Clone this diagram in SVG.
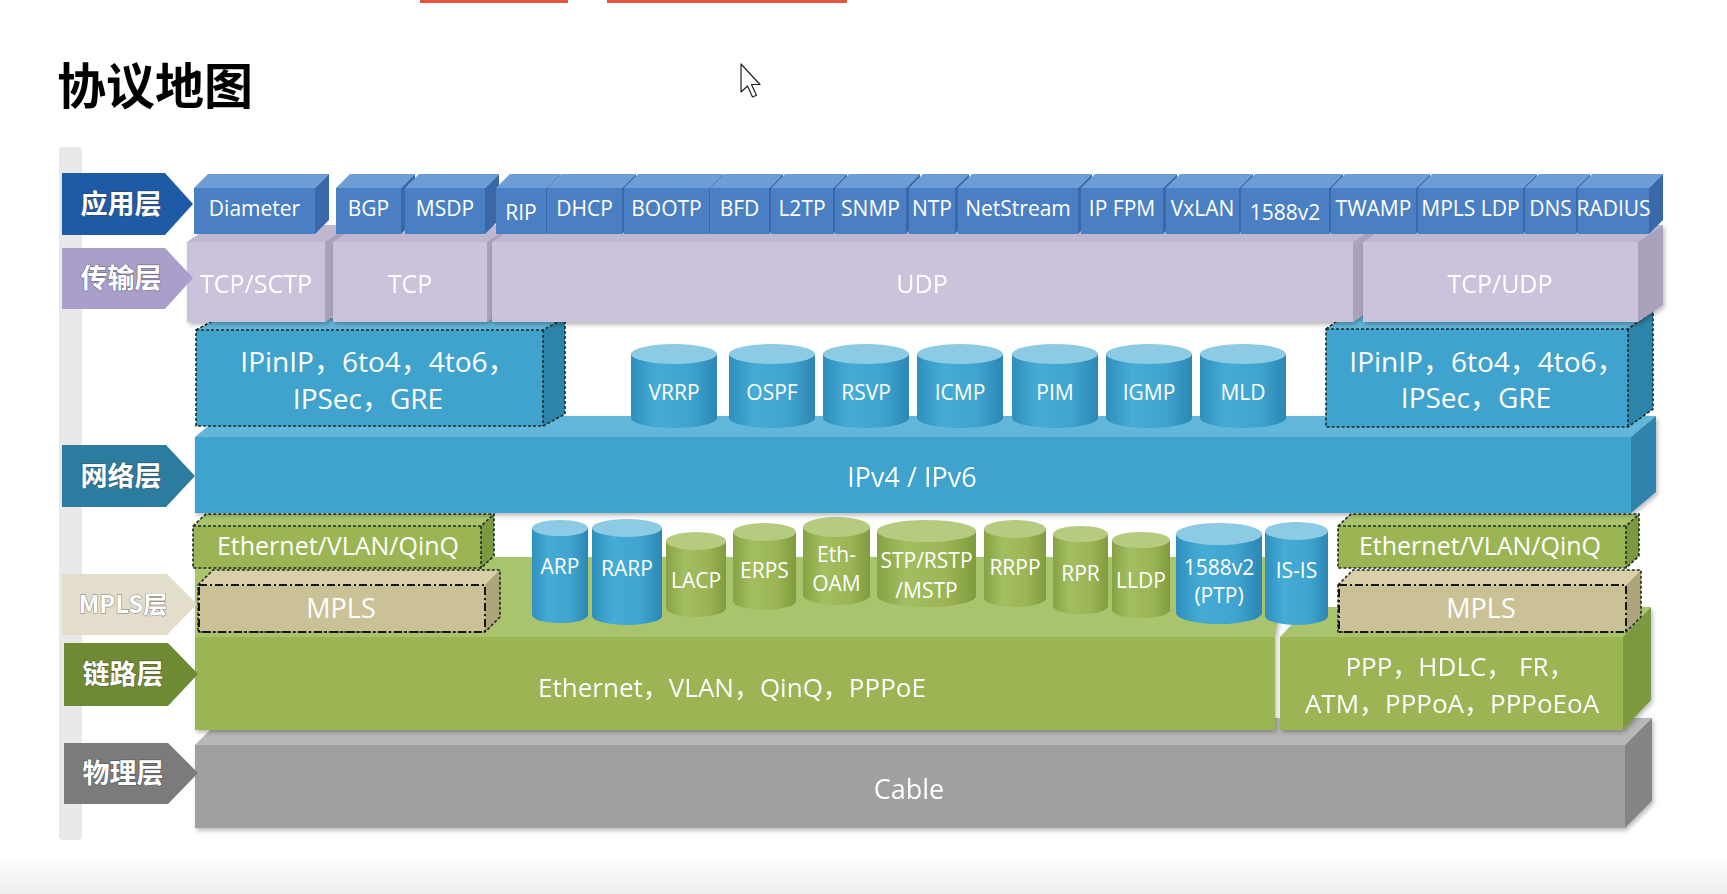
<svg xmlns="http://www.w3.org/2000/svg" width="1727" height="894" viewBox="0 0 1727 894">
<defs>
<style>
.t{font-family:"Open Sans","Noto Sans CJK SC",sans-serif;fill:#fff;text-anchor:middle}
.s21{font-size:21px}.s25{font-size:25px}.s26{font-size:26px}.s27{font-size:27px}.s28{font-size:28px}
.lbl{font-family:"Noto Sans CJK SC","Noto Sans CJK JP",sans-serif;font-weight:bold;font-size:27px;fill:#fff;text-anchor:middle;stroke:#3a3a3a;stroke-opacity:.45;stroke-width:1.4px;paint-order:stroke}
.app-f{fill:#4a80c3}.app-t{fill:#6d9dd5}.app-s{fill:#3a69a9}
.tr-f{fill:#cbc3dc}.tr-t{fill:#bfb6d0}.tr-s{fill:#aaa1bd}
.nw-f{fill:#3fa3cd}.nw-t{fill:#62b6da}.nw-s{fill:#2d84aa}
.ln-f{fill:#9bb554}.ln-t{fill:#a9c46c}.ln-s{fill:#7d993f}
.mp-f{fill:#cbc196}.mp-t{fill:#d9d0aa}.mp-s{fill:#ada47a}
.cb-f{fill:#a0a0a0}.cb-t{fill:#b8b8b8}.cb-s{fill:#858585}
.dash{fill:none;stroke:#1e2a24;stroke-width:1.6;stroke-dasharray:3 2}
.dd{fill:none;stroke:#151515;stroke-width:2;stroke-dasharray:8 3 2 3}
.cyb{fill:url(#gb)}.cyg{fill:url(#gg)}
.ctb{fill:#8dcbe5}.ctg{fill:#b5cc80}
</style>
<linearGradient id="gb" x1="0" y1="0" x2="1" y2="0">
<stop offset="0" stop-color="#2f8fbd"/><stop offset="0.3" stop-color="#45acd6"/><stop offset="0.7" stop-color="#3fa4cf"/><stop offset="1" stop-color="#2c86b3"/>
</linearGradient>
<linearGradient id="gg" x1="0" y1="0" x2="1" y2="0">
<stop offset="0" stop-color="#86a343"/><stop offset="0.3" stop-color="#a3be60"/><stop offset="0.7" stop-color="#9bb555"/><stop offset="1" stop-color="#7f9b3d"/>
</linearGradient>
<linearGradient id="gbot" x1="0" y1="0" x2="0" y2="1">
<stop offset="0" stop-color="#ffffff"/><stop offset="1" stop-color="#eeeeee"/>
</linearGradient>
<filter id="sh" x="-5%" y="-10%" width="115%" height="135%">
<feDropShadow dx="1.5" dy="2.5" stdDeviation="2" flood-color="#000" flood-opacity="0.28"/>
</filter>
</defs>

<rect width="1727" height="894" fill="#ffffff"/>
<rect x="0" y="855" width="1727" height="39" fill="url(#gbot)"/>
<rect x="420" y="0" width="148" height="3" fill="#e2553f"/>
<rect x="607" y="0" width="240" height="3" fill="#e2553f"/>
<text x="57" y="104" font-family="Noto Sans CJK SC, sans-serif" font-weight="bold" font-size="49" fill="#000">协议地图</text>
<path d="M741,64 L741,92 L747.5,86 L752.5,97 L756.5,95.2 L751.5,84.5 L760,84.5 Z" fill="#fff" stroke="#222" stroke-width="1.2" stroke-linejoin="round"/>
<rect x="59" y="147" width="23" height="693" rx="4" fill="#e9e9e9"/>

<g id="connectors"/>

<!-- Physical layer -->
<g id="cable" filter="url(#sh)">
<polygon class="cb-t" points="195,745 222,718 1652,718 1625,745"/>
<polygon class="cb-s" points="1625,745 1652,718 1652,801 1625,828"/>
<rect class="cb-f" x="195" y="745" width="1430" height="83"/>
<text class="t s27" x="909" y="799">Cable</text>
</g>

<!-- Link layer -->
<g id="link-ethernet" filter="url(#sh)">
<polygon class="ln-t" points="195,637 195,557 1290,557 1275,637"/>
<rect class="ln-f" x="195" y="637" width="1080" height="93"/>
<text class="t s26" x="732" y="697">Ethernet，VLAN，QinQ，PPPoE</text>
</g>
<g id="link-wan" filter="url(#sh)">
<polygon class="ln-t" points="1280,637 1308,607 1651,607 1623,637"/>
<polygon class="ln-s" points="1623,637 1651,607 1651,700 1623,730"/>
<rect class="ln-f" x="1280" y="637" width="343" height="93"/>
<text class="t s26" x="1460" y="676">PPP，HDLC， FR，</text>
<text class="t s26" x="1452" y="713">ATM，PPPoA，PPPoEoA</text>
</g>

<!-- MPLS boxes -->
<g id="mpls-left">
<polygon class="mp-t" points="198,585 213,570 500,570 485,585"/>
<polygon class="mp-s" points="485,585 500,570 500,617 485,632"/>
<rect class="mp-f" x="198" y="585" width="287" height="47"/>
<polygon class="dash" points="198,585 213,570 500,570 500,617 485,632 198,632"/>
<rect class="dd" x="199" y="585" width="286" height="47"/>
<text class="t s27" x="341" y="618">MPLS</text>
</g>
<g id="mpls-right">
<polygon class="mp-t" points="1338,585 1353,570 1641,570 1626,585"/>
<polygon class="mp-s" points="1626,585 1641,570 1641,617 1626,632"/>
<rect class="mp-f" x="1338" y="585" width="288" height="47"/>
<polygon class="dash" points="1338,585 1353,570 1641,570 1641,617 1626,632 1338,632"/>
<rect class="dd" x="1339" y="585" width="287" height="47"/>
<text class="t s27" x="1481" y="618">MPLS</text>
</g>

<!-- Ethernet/VLAN/QinQ boxes -->
<g id="eth-left">
<polygon class="ln-t" points="193,526 206,514 494,514 481,526"/>
<polygon class="ln-s" points="481,526 494,514 494,556 481,568"/>
<rect class="ln-f" x="193" y="526" width="288" height="42"/>
<polygon class="dash" points="193,526 206,514 494,514 494,556 481,568 193,568"/>
<polyline class="dash" points="193,526 481,526 494,514"/>
<line class="dash" x1="481" y1="526" x2="481" y2="568"/>
<text class="t s25" x="338" y="555">Ethernet/VLAN/QinQ</text>
</g>
<g id="eth-right">
<polygon class="ln-t" points="1338,526 1351,514 1639,514 1626,526"/>
<polygon class="ln-s" points="1626,526 1639,514 1639,556 1626,568"/>
<rect class="ln-f" x="1338" y="526" width="288" height="42"/>
<polygon class="dash" points="1338,526 1351,514 1639,514 1639,556 1626,568 1338,568"/>
<polyline class="dash" points="1338,526 1626,526 1639,514"/>
<line class="dash" x1="1626" y1="526" x2="1626" y2="568"/>
<text class="t s25" x="1480" y="555">Ethernet/VLAN/QinQ</text>
</g>

<!-- Link layer cylinders -->
<g id="arp"><path class="cyb" d="M532,528 V615 A28,8 0 0 0 588,615 V528 Z"/><ellipse class="ctb" cx="560" cy="528" rx="28" ry="8"/><text class="t s21" x="560" y="574">ARP</text></g>
<g id="rarp"><path class="cyb" d="M592,528 V616 A35,9 0 0 0 662,616 V528 Z"/><ellipse class="ctb" cx="627" cy="528" rx="35" ry="9"/><text class="t s21" x="627" y="576">RARP</text></g>
<g id="lacp"><path class="cyg" d="M666,541 V608 A30,9 0 0 0 726,608 V541 Z"/><ellipse class="ctg" cx="696" cy="541" rx="30" ry="9"/><text class="t s21" x="696" y="588">LACP</text></g>
<g id="erps"><path class="cyg" d="M733,532 V601 A31.5,9 0 0 0 796,601 V532 Z"/><ellipse class="ctg" cx="764.5" cy="532" rx="31.5" ry="9"/><text class="t s21" x="764.5" y="578">ERPS</text></g>
<g id="eth-oam"><path class="cyg" d="M803,527 V595 A33.5,10 0 0 0 870,595 V527 Z"/><ellipse class="ctg" cx="836.5" cy="527" rx="33.5" ry="10"/><text class="t s21" x="836.5" y="562">Eth-</text><text class="t s21" x="836.5" y="591">OAM</text></g>
<g id="stp"><path class="cyg" d="M877,531 V596 A49.5,11 0 0 0 976,596 V531 Z"/><ellipse class="ctg" cx="926.5" cy="531" rx="49.5" ry="11"/><text class="t s21" x="926.5" y="568">STP/RSTP</text><text class="t s21" x="926.5" y="598">/MSTP</text></g>
<g id="rrpp"><path class="cyg" d="M984,529 V598 A31,9 0 0 0 1046,598 V529 Z"/><ellipse class="ctg" cx="1015" cy="529" rx="31" ry="9"/><text class="t s21" x="1015" y="575">RRPP</text></g>
<g id="rpr"><path class="cyg" d="M1053,534 V606 A27.5,8 0 0 0 1108,606 V534 Z"/><ellipse class="ctg" cx="1080.5" cy="534" rx="27.5" ry="8"/><text class="t s21" x="1080.5" y="581">RPR</text></g>
<g id="lldp"><path class="cyg" d="M1112,540 V610 A29,8 0 0 0 1170,610 V540 Z"/><ellipse class="ctg" cx="1141" cy="540" rx="29" ry="8"/><text class="t s21" x="1141" y="588">LLDP</text></g>
<g id="ptp"><path class="cyb" d="M1176,534 V613 A43,11 0 0 0 1262,613 V534 Z"/><ellipse class="ctb" cx="1219" cy="534" rx="43" ry="11"/><text class="t s21" x="1219" y="575">1588v2</text><text class="t s21" x="1219" y="603">(PTP)</text></g>
<g id="isis"><path class="cyb" d="M1265,531 V616 A31.5,9 0 0 0 1328,616 V531 Z"/><ellipse class="ctb" cx="1296.5" cy="531" rx="31.5" ry="9"/><text class="t s21" x="1296.5" y="578">IS-IS</text></g>

<!-- Network layer -->
<g id="ipv4-ipv6" filter="url(#sh)">
<polygon class="nw-t" points="195,437 220,416 1656,416 1631,437"/>
<polygon class="nw-s" points="1631,437 1656,416 1656,492 1631,513"/>
<rect class="nw-f" x="195" y="437" width="1436" height="76"/>
<text class="t s27" x="912" y="487">IPv4 / IPv6</text>
</g>

<g id="vrrp"><path class="cyb" d="M631,354 V418 A43,10 0 0 0 717,418 V354 Z"/><ellipse class="ctb" cx="674" cy="354" rx="43" ry="10"/><text class="t s21" x="674" y="400">VRRP</text></g>
<g id="ospf"><path class="cyb" d="M729,354 V418 A43,10 0 0 0 815,418 V354 Z"/><ellipse class="ctb" cx="772" cy="354" rx="43" ry="10"/><text class="t s21" x="772" y="400">OSPF</text></g>
<g id="rsvp"><path class="cyb" d="M823,354 V418 A43,10 0 0 0 909,418 V354 Z"/><ellipse class="ctb" cx="866" cy="354" rx="43" ry="10"/><text class="t s21" x="866" y="400">RSVP</text></g>
<g id="icmp"><path class="cyb" d="M917,354 V418 A43,10 0 0 0 1003,418 V354 Z"/><ellipse class="ctb" cx="960" cy="354" rx="43" ry="10"/><text class="t s21" x="960" y="400">ICMP</text></g>
<g id="pim"><path class="cyb" d="M1012,354 V418 A43,10 0 0 0 1098,418 V354 Z"/><ellipse class="ctb" cx="1055" cy="354" rx="43" ry="10"/><text class="t s21" x="1055" y="400">PIM</text></g>
<g id="igmp"><path class="cyb" d="M1106,354 V418 A43,10 0 0 0 1192,418 V354 Z"/><ellipse class="ctb" cx="1149" cy="354" rx="43" ry="10"/><text class="t s21" x="1149" y="400">IGMP</text></g>
<g id="mld"><path class="cyb" d="M1200,354 V418 A43,10 0 0 0 1286,418 V354 Z"/><ellipse class="ctb" cx="1243" cy="354" rx="43" ry="10"/><text class="t s21" x="1243" y="400">MLD</text></g>

<g id="tunnel-left">
<polygon class="nw-t" points="196,330 218,318 565,318 543,330"/>
<polygon class="nw-s" points="543,330 565,318 565,414 543,426"/>
<rect class="nw-f" x="196" y="330" width="347" height="96"/>
<polygon class="dash" points="196,330 218,318 565,318 565,414 543,426 196,426"/>
<polyline class="dash" points="196,330 543,330 565,318"/>
<line class="dash" x1="543" y1="330" x2="543" y2="426"/>
<text class="t s28" x="378" y="372">IPinIP，6to4，4to6，</text>
<text class="t s28" x="368" y="409">IPSec，GRE</text>
</g>
<g id="tunnel-right">
<polygon class="nw-t" points="1326,329 1351,311 1653,311 1628,329"/>
<polygon class="nw-s" points="1628,329 1653,311 1653,409 1628,427"/>
<rect class="nw-f" x="1326" y="329" width="302" height="98"/>
<polygon class="dash" points="1326,329 1351,311 1653,311 1653,409 1628,427 1326,427"/>
<polyline class="dash" points="1326,329 1628,329 1653,311"/>
<line class="dash" x1="1628" y1="329" x2="1628" y2="427"/>
<text class="t s28" x="1487" y="372">IPinIP，6to4，4to6，</text>
<text class="t s28" x="1476" y="408">IPSec，GRE</text>
</g>

<!-- Transport layer -->
<g id="tcp-sctp" filter="url(#sh)">
<polygon class="tr-t" points="187,242 212,225 350,225 325,242"/>
<polygon class="tr-s" points="325,242 350,225 350,305 325,322"/>
<rect class="tr-f" x="187" y="242" width="138" height="80"/>
<text class="t s25" x="256" y="293">TCP/SCTP</text>
</g>
<g id="tcp" filter="url(#sh)">
<polygon class="tr-t" points="333,242 358,225 512,225 487,242"/>
<polygon class="tr-s" points="487,242 512,225 512,305 487,322"/>
<rect class="tr-f" x="333" y="242" width="154" height="80"/>
<text class="t s25" x="410" y="293">TCP</text>
</g>
<g id="udp" filter="url(#sh)">
<polygon class="tr-t" points="492,242 517,225 1378,225 1353,242"/>
<polygon class="tr-s" points="1353,242 1378,225 1378,305 1353,322"/>
<rect class="tr-f" x="492" y="242" width="861" height="80"/>
<text class="t s25" x="922" y="293">UDP</text>
</g>
<g id="tcp-udp" filter="url(#sh)">
<polygon class="tr-t" points="1363,242 1388,225 1663,225 1638,242"/>
<polygon class="tr-s" points="1638,242 1663,225 1663,305 1638,322"/>
<rect class="tr-f" x="1363" y="242" width="275" height="80"/>
<text class="t s25" x="1500" y="293">TCP/UDP</text>
</g>

<!-- Application layer -->
<g id="diameter"><polygon class="app-t" points="194,188 208,174 329,174 315,188"/><polygon class="app-s" points="315,188 329,174 329,220 315,234"/><rect class="app-f" x="194" y="188" width="121" height="46"/><text class="t s21" x="254.5" y="216">Diameter</text></g>
<g id="bgp"><polygon class="app-t" points="336,188 350,174 415,174 401,188"/><polygon class="app-s" points="401,188 415,174 415,220 401,234"/><rect class="app-f" x="336" y="188" width="65" height="46"/><text class="t s21" x="368.5" y="216">BGP</text></g>
<g id="msdp"><polygon class="app-t" points="405,188 419,174 499,174 485,188"/><polygon class="app-s" points="485,188 499,174 499,220 485,234"/><rect class="app-f" x="405" y="188" width="80" height="46"/><text class="t s21" x="445" y="216">MSDP</text></g>
<g id="rip"><polygon class="app-t" points="496,188 510,174 560,174 546,188"/><polygon class="app-s" points="546,188 560,174 560,220 546,234"/><rect class="app-f" x="496" y="188" width="50" height="46"/><text class="t s21" x="521" y="220">RIP</text></g>
<g id="dhcp"><polygon class="app-t" points="547,188 561,174 636,174 622,188"/><polygon class="app-s" points="622,188 636,174 636,220 622,234"/><rect class="app-f" x="547" y="188" width="75" height="46"/><text class="t s21" x="584.5" y="216">DHCP</text></g>
<g id="bootp"><polygon class="app-t" points="624,188 638,174 723,174 709,188"/><polygon class="app-s" points="709,188 723,174 723,220 709,234"/><rect class="app-f" x="624" y="188" width="85" height="46"/><text class="t s21" x="666.5" y="216">BOOTP</text></g>
<g id="bfd"><polygon class="app-t" points="710,188 724,174 783,174 769,188"/><polygon class="app-s" points="769,188 783,174 783,220 769,234"/><rect class="app-f" x="710" y="188" width="59" height="46"/><text class="t s21" x="739.5" y="216">BFD</text></g>
<g id="l2tp"><polygon class="app-t" points="771,188 785,174 847,174 833,188"/><polygon class="app-s" points="833,188 847,174 847,220 833,234"/><rect class="app-f" x="771" y="188" width="62" height="46"/><text class="t s21" x="802" y="216">L2TP</text></g>
<g id="snmp"><polygon class="app-t" points="835,188 849,174 920,174 906,188"/><polygon class="app-s" points="906,188 920,174 920,220 906,234"/><rect class="app-f" x="835" y="188" width="71" height="46"/><text class="t s21" x="870.5" y="216">SNMP</text></g>
<g id="ntp"><polygon class="app-t" points="909,188 923,174 969,174 955,188"/><polygon class="app-s" points="955,188 969,174 969,220 955,234"/><rect class="app-f" x="909" y="188" width="46" height="46"/><text class="t s21" x="932" y="216">NTP</text></g>
<g id="netstream"><polygon class="app-t" points="958,188 972,174 1092,174 1078,188"/><polygon class="app-s" points="1078,188 1092,174 1092,220 1078,234"/><rect class="app-f" x="958" y="188" width="120" height="46"/><text class="t s21" x="1018" y="216">NetStream</text></g>
<g id="ipfpm"><polygon class="app-t" points="1081,188 1095,174 1177,174 1163,188"/><polygon class="app-s" points="1163,188 1177,174 1177,220 1163,234"/><rect class="app-f" x="1081" y="188" width="82" height="46"/><text class="t s21" x="1122" y="216">IP FPM</text></g>
<g id="vxlan"><polygon class="app-t" points="1166,188 1180,174 1253,174 1239,188"/><polygon class="app-s" points="1239,188 1253,174 1253,220 1239,234"/><rect class="app-f" x="1166" y="188" width="73" height="46"/><text class="t s21" x="1202.5" y="216">VxLAN</text></g>
<g id="app-1588v2"><polygon class="app-t" points="1241,188 1255,174 1343,174 1329,188"/><polygon class="app-s" points="1329,188 1343,174 1343,220 1329,234"/><rect class="app-f" x="1241" y="188" width="88" height="46"/><text class="t s21" x="1285" y="220">1588v2</text></g>
<g id="twamp"><polygon class="app-t" points="1331,188 1345,174 1430,174 1416,188"/><polygon class="app-s" points="1416,188 1430,174 1430,220 1416,234"/><rect class="app-f" x="1331" y="188" width="85" height="46"/><text class="t s21" x="1373.5" y="216">TWAMP</text></g>
<g id="mpls-ldp"><polygon class="app-t" points="1418,188 1432,174 1537,174 1523,188"/><polygon class="app-s" points="1523,188 1537,174 1537,220 1523,234"/><rect class="app-f" x="1418" y="188" width="105" height="46"/><text class="t s21" x="1470.5" y="216">MPLS LDP</text></g>
<g id="dns"><polygon class="app-t" points="1525,188 1539,174 1590,174 1576,188"/><polygon class="app-s" points="1576,188 1590,174 1590,220 1576,234"/><rect class="app-f" x="1525" y="188" width="51" height="46"/><text class="t s21" x="1550.5" y="216">DNS</text></g>
<g id="radius"><polygon class="app-t" points="1578,188 1592,174 1663,174 1649,188"/><polygon class="app-s" points="1649,188 1663,174 1663,220 1649,234"/><rect class="app-f" x="1578" y="188" width="71" height="46"/><text class="t s21" x="1613.5" y="216">RADIUS</text></g>

<!-- Layer labels -->
<g id="label-app"><polygon points="62,173 165,173 193,204 165,235 62,235" fill="#1f5aa6"/><text class="lbl" x="121" y="214">应用层</text></g>
<g id="label-transport"><polygon points="62,248 165,248 193,278 165,309 62,309" fill="#a99fca"/><text class="lbl" x="121" y="288">传输层</text></g>
<g id="label-network"><polygon points="62,445 166,445 195,476 166,507 62,507" fill="#2b7c9f"/><text class="lbl" x="121" y="486">网络层</text></g>
<g id="label-mpls"><polygon points="62,574 167,574 197,604 167,635 62,635" fill="#e2decb"/><text class="lbl" x="123" y="613" style="font-size:24px">MPLS层</text></g>
<g id="label-link"><polygon points="64,643 168,643 198,674 168,706 64,706" fill="#6e8b34"/><text class="lbl" x="123" y="684">链路层</text></g>
<g id="label-physical"><polygon points="64,743 168,743 198,773 168,804 64,804" fill="#7b7b7b"/><text class="lbl" x="123" y="783">物理层</text></g>
</svg>
